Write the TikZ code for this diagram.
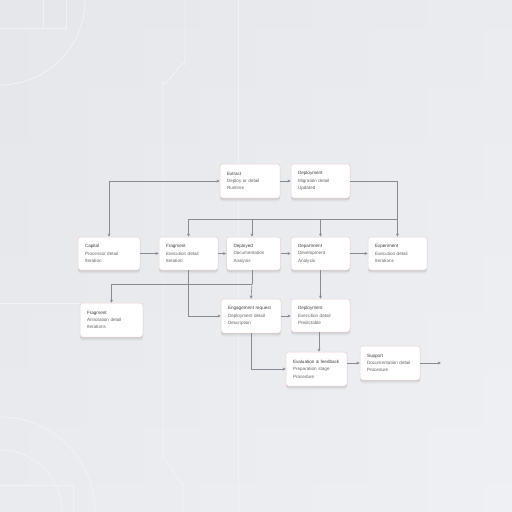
\documentclass[tikz,border=0pt]{standalone}
\usepackage{fontspec}
\setmainfont{Liberation Sans}
\usetikzlibrary{arrows.meta}
\definecolor{bgA}{HTML}{E5E7EB}
\definecolor{bgB}{HTML}{EEF0F3}
\definecolor{deco}{HTML}{F1F2F5}
\definecolor{edge}{HTML}{EDCFCF}
\definecolor{wire}{HTML}{858C96}
\definecolor{ttl}{HTML}{3C3F44}
\definecolor{sub}{HTML}{62666D}
\tikzset{
  boxn/.style={draw=edge, line width=0.5pt, fill=white, rounded corners=2.5pt,
    preaction={fill=black, draw=none, fill opacity=0.035, transform canvas={yshift=-3.5pt}},
    preaction={fill=black, draw=none, fill opacity=0.05, transform canvas={yshift=-2pt}},
    preaction={fill=black, draw=none, fill opacity=0.05, transform canvas={yshift=-1pt}},
    inner xsep=7pt, inner ysep=0pt, align=left, font=\fontsize{4.6}{7.4}\selectfont, text=sub},
  wireln/.style={draw=wire, line width=0.6pt},
  arr/.style={wireln, -{Stealth[length=3.2pt,width=3pt]}},
  decoln/.style={draw=deco, line width=0.9pt}
}
\newcommand{\bx}[8]{\node[boxn, minimum width=#4pt, minimum height=#5pt, text width=#4pt-14pt] (#1) at (#2,#3) {{\color{ttl}#6}\\#7\\#8};}
\begin{document}
\begin{tikzpicture}[x=1pt,y=-1pt]
\useasboundingbox (0,0) rectangle (512,512);
\shade[top color=bgA, bottom color=bgB] (0,0) rectangle (512,512);
\shade[left color=bgA, right color=bgB, opacity=0.5] (0,0) rectangle (512,512);
% faint decoration
\draw[decoln] (0,85) arc[start angle=90, end angle=0, radius=85];
\draw[decoln] (0,28) -- (66,28) -- (66,0);
\draw[decoln] (43,28) -- (43,0);
\draw[decoln] (185,0) -- (185,65) to[out=90,in=-90] (163,82) -- (163,460) to[out=90,in=-90] (183,482) -- (183,512);
\draw[decoln] (238,0) -- (238,512);
\draw[decoln] (0,417) arc[start angle=-90, end angle=0, radius=95];
\draw[decoln] (0,450) arc[start angle=-90, end angle=0, radius=62];
\draw[decoln] (0,485) -- (73,485) -- (73,512);
\draw[decoln] (0,303) -- (140,303);
% nodes
\bx{A}{250}{181}{60}{34}{Extract}{Deploy or detail}{Runtime}
\bx{B}{320.5}{181}{59}{34}{Deployment}{Migration detail}{Updated}
\bx{C1}{109}{253.5}{62}{33}{Capital}{Processor detail}{Iteration}
\bx{C2}{188.5}{253.5}{59}{33}{Fragment}{Execution detail}{Iteration}
\bx{C3}{253.5}{253.5}{54}{33}{Deployed}{Documentation}{Analysis}
\bx{C4}{320.5}{253.5}{59}{33}{Department}{Development}{Analysis}
\bx{C5}{397.5}{253.5}{59}{33}{Experiment}{Execution detail}{Iterations}
\bx{D1}{111.5}{320}{63}{34}{Fragment}{Annotation detail}{Iterations}
\bx{D2}{251}{316}{60}{34}{Engagement request}{Deployment detail}{Description}
\bx{D3}{320.5}{315.5}{59}{33}{Deployment}{Execution detail}{Predictable}
\bx{E1}{316.5}{369}{61}{34}{Evaluation \& feedback}{Preparation stage}{Procedure}
\bx{E2}{390}{363}{60}{34}{Support}{Documentation detail}{Procedure}
\coordinate (out) at (441,363);
\coordinate (bus) at (0,219);
\coordinate (split) at (0,284);
% connectors
\draw[wireln, {Stealth[length=3.2pt,width=3pt]}-{Stealth[length=3.2pt,width=3pt]}] (C1.north) |- (A.west);
\draw[arr] (A.east) -- (B.west);
\draw[arr] (B.east) -| (C5.north);
\draw[wireln] (C2.north |- bus) -- (C5.north |- bus);
\draw[arr] (C2.north |- bus) -- (C2.north);
\draw[arr] ([xshift=-1.5pt]C3.north |- bus) -- ([xshift=-1.5pt]C3.north);
\draw[arr] (C4.north |- bus) -- (C4.north);
\draw[arr] (C1.east) -- (C2.west);
\draw[arr] (C2.east) -- (C3.west);
\draw[arr] (C3.east) -- (C4.west);
\draw[arr] (C4.east) -- (C5.west);
\draw[wireln] ([xshift=-1.5pt]C3.south) -- ([xshift=-1.5pt]C3.south |- split);
\draw[arr] ([xshift=-1.5pt]C3.south |- split) -| (D1.north);
\draw[arr] ([xshift=-1.5pt]C3.south |- split) -- (D2.north);
\draw[arr] (C2.south) |- (D2.west);
\draw[arr] (C4.south) -- (D3.north);
\draw[arr] (D2.east) -- (D2.east -| D3.west);
\draw[arr] ([xshift=-1.5pt]D3.south) -- ([xshift=-1.5pt]D3.south |- E1.north);
\draw[arr] (D2.south) |- (E1.west);
\draw[arr] (E1.east |- E2.west) -- (E2.west);
\draw[arr] (E2.east) -- (out);
\end{tikzpicture}
\end{document}
